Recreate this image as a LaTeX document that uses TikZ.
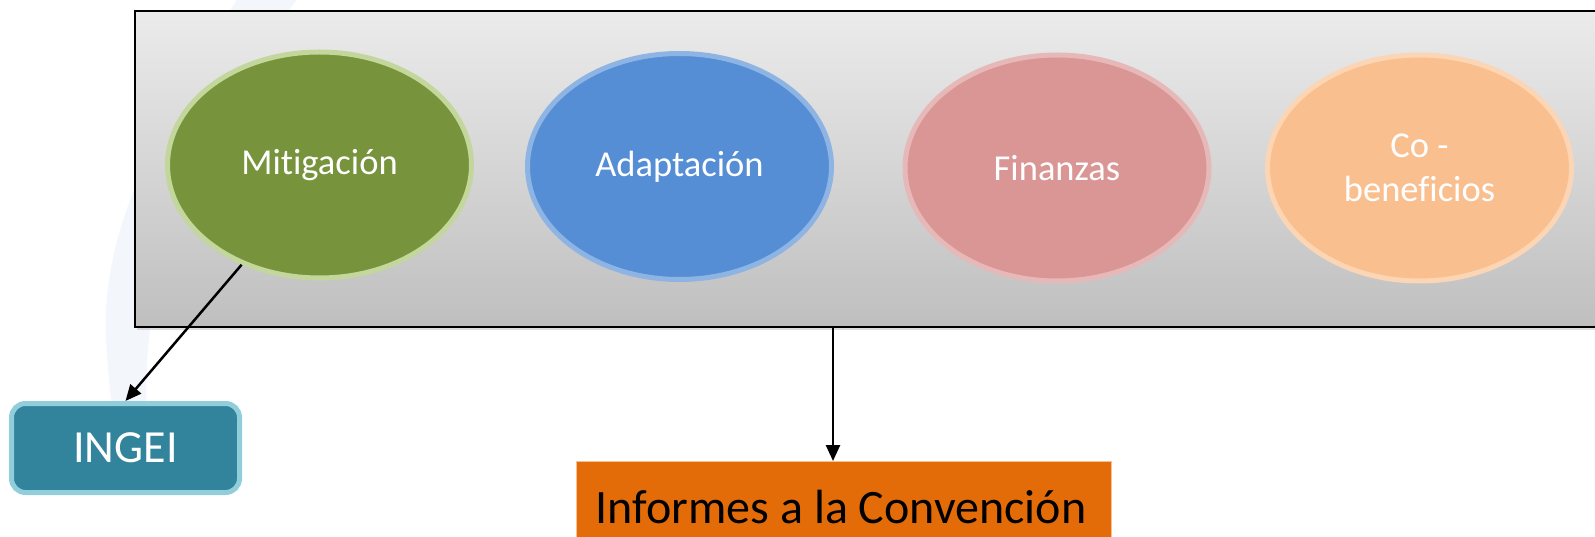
\documentclass[tikz,border=0pt]{standalone}
\usepackage{fontspec}
\setmainfont{Carlito}[Ligatures=NoCommon]
\usetikzlibrary{shapes.geometric,arrows.meta,shadows}
\definecolor{mitfill}{HTML}{77933C}
\definecolor{mitline}{HTML}{C3D69B}
\definecolor{adafill}{HTML}{558ED5}
\definecolor{adaline}{HTML}{8EB4E3}
\definecolor{finfill}{HTML}{D99694}
\definecolor{finline}{HTML}{E6B9B8}
\definecolor{cobfill}{HTML}{F9BF8F}
\definecolor{cobline}{HTML}{FCD5B5}
\definecolor{ingfill}{HTML}{31849B}
\definecolor{ingline}{HTML}{92CDDC}
\definecolor{orfill}{HTML}{E36C09}
\definecolor{orline}{HTML}{FAC090}
\definecolor{wmark}{HTML}{F3F6FB}
\definecolor{paneltop}{HTML}{EBEBEB}
\definecolor{panelbot}{HTML}{BFBFBF}
\tikzset{
  topic/.style={ellipse, draw, line width=5pt, minimum width=304pt, minimum height=226pt,
    inner sep=0pt, text=white, align=center, font=\fontsize{36.5}{44}\selectfont},
  arr/.style={line width=2.5pt, -{Triangle[length=16pt,width=14pt]}},
}
\begin{document}
\begin{tikzpicture}[x=1pt,y=-1pt]
\useasboundingbox (0,0) rectangle (1595,537);
\clip (0,0) rectangle (1595,537);
% faint watermark
\fill[wmark] (240,-5) .. controls (160,120) and (100,230) .. (106,340)
  .. controls (110,410) and (118,450) .. (128,472) -- (152,472)
  .. controls (146,420) and (144,380) .. (150,330)
  .. controls (165,200) and (230,90) .. (300,-5) -- cycle;
% panel
\node[draw=black, line width=2.4pt, top color=paneltop, bottom color=panelbot,
  drop shadow={opacity=0.25, shadow xshift=2pt, shadow yshift=-3pt},
  minimum width=1500pt, minimum height=316pt, inner sep=0pt, anchor=north west]
  (panel) at (134,10) {};
% topics
\node[topic, fill=mitfill, draw=mitline] (mit) at (319.5,165) {Mitigación};
\node[topic, fill=adafill, draw=adaline] (ada) at (679.5,166.5) {Adaptación};
\node[topic, fill=finfill, draw=finline] (fin) at (1057,168) {Finanzas};
\node[topic, fill=cobfill, draw=cobline] (cob) at (1419.5,168) {Co -\\beneficios};
% INGEI
\node[draw=ingline, fill=ingfill, line width=5pt, rounded corners=14pt,
  minimum width=228pt, minimum height=89pt, inner sep=0pt, text=white,
  font=\fontsize{46}{50}\selectfont] (ingei) at (125.5,448) {INGEI};
% Informes
\node[draw=orline, fill=orfill, line width=1.2pt, minimum width=535pt,
  minimum height=100pt, inner sep=0pt, anchor=north west,
  text=black] (inf) at (576,461) {};
\node[anchor=base, font=\fontsize{48}{52}\selectfont, inner sep=0pt] (inftxt)
  at (841,523) {Informes a la Convención};
% connectors
\coordinate (pout) at (833,327);
\draw[arr] (mit.232) -- (ingei.north);
\draw[arr] (pout) -- (pout |- inf.north);
\end{tikzpicture}
\end{document}
